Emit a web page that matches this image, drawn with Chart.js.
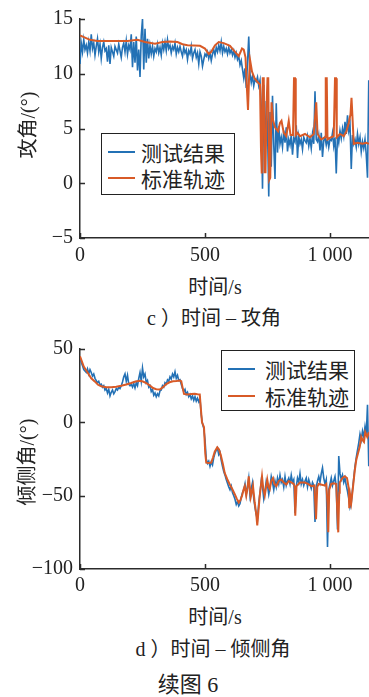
<!DOCTYPE html>
<html>
<head>
<meta charset="utf-8">
<script src="https://cdn.jsdelivr.net/npm/chart.js@4/dist/chart.umd.min.js"></script>
<style>
  html, body { margin: 0; padding: 0; background: #fff; }
  body { width: 369px; height: 697px; position: relative; overflow: hidden;
         font-family: 'Liberation Serif', 'Noto Sans CJK SC', serif; color: #222; }
  canvas { position: absolute; left: 0; }
  .txt { position: absolute; white-space: nowrap; font-size: 20px; line-height: 1;
         transform: translate(-50%, -50%); }
  .ytitle { transform: translate(-50%, -50%) rotate(-90deg); }
  .legend { position: absolute; border: 1.5px solid #222; background: #fff; box-sizing: border-box; }
  .row { position: absolute; left: 0; height: 24px; display: flex; align-items: center; }
  .swatch { height: 2.5px; }
  .lab { font-family: 'Noto Sans CJK SC', sans-serif; font-size: 21px; line-height: 1; color: #222; }
</style>
</head>
<body>
<canvas id="attack" width="369" height="270" style="top:0"></canvas>
<canvas id="bank" width="369" height="270" style="top:330px"></canvas>

<div class="txt ytitle" style="left:28px;top:125px">攻角/(°)</div>
<div class="txt" style="left:215px;top:287px">时间/s</div>
<div class="txt" style="left:214px;top:318px">c ）时间 – 攻角</div>

<div class="txt ytitle" style="left:27px;top:462px">倾侧角/(°)</div>
<div class="txt" style="left:215px;top:617px">时间/s</div>
<div class="txt" style="left:213px;top:649px">d ）时间 – 倾侧角</div>
<div class="txt" style="left:188px;top:685px;font-size:22px">续图 6</div>

<div class="legend" style="left:101px;top:133px;width:134px;height:62px">
  <div class="row" style="top:6px"><div class="swatch" id="swA1" style="width:27px;margin-left:6px;margin-right:6px"></div><span class="lab">测试结果</span></div>
  <div class="row" style="top:32px"><div class="swatch" id="swA2" style="width:27px;margin-left:6px;margin-right:6px"></div><span class="lab">标准轨迹</span></div>
</div>
<div class="legend" style="left:221px;top:350px;width:134px;height:61px">
  <div class="row" style="top:6px"><div class="swatch" id="swB1" style="width:27px;margin-left:6px;margin-right:10px"></div><span class="lab">测试结果</span></div>
  <div class="row" style="top:33px"><div class="swatch" id="swB2" style="width:27px;margin-left:6px;margin-right:10px"></div><span class="lab">标准轨迹</span></div>
</div>

<script>
// ---- series colours ----
const MEASURED_COLOR = '#2371b5';
const REFERENCE_COLOR = '#d85a27';
const AXIS_COLOR = '#2b2b2b';
const TEXT_COLOR = '#222';

// ---- shared time axis ----
const TIME_MAX = 1156;                 // s
const MEASURED_STEP = 5;               // s, sampling interval of the measured series
const timeTicks = [0, 500, 1000];
const timeTickLabels = ['0', '500', '1 000'];

// ---- (c) angle of attack, deg ----
const attackTicks = [-5, 0, 5, 10, 15];
const attackTickLabels = ['−5', '0', '5', '10', '15'];
const attackMeasured = [
  10.9,12.8,12.0,13.1,12.2,12.6,11.9,12.9,12.1,13.6,12.3,12.8,11.7,12.5,13.2,12.0,12.7,11.4,12.4,12.9,12.1,
  12.3,11.1,12.6,10.9,12.4,12.0,11.6,12.5,12.2,11.9,12.7,12.1,11.5,12.4,12.8,12.0,13.0,11.8,12.6,12.2,
  13.6,10.6,12.9,11.0,13.4,10.3,12.2,9.7,13.5,15.0,10.4,14.1,11.0,13.2,11.4,12.6,
  11.8,12.5,11.6,12.3,12.0,12.7,11.9,12.4,11.7,12.8,12.2,12.9,12.1,13.1,12.3,12.6,11.9,12.5,12.2,12.8,11.8,12.4,12.0,12.5,
  12.0,11.6,12.4,11.9,12.2,11.3,12.1,11.8,12.5,11.4,11.9,12.2,11.5,11.9,10.9,12.0,11.6,10.7,11.3,11.8,
  11.6,12.0,11.4,11.9,11.2,11.8,12.2,11.7,12.4,12.0,12.6,12.1,12.9,11.9,12.5,12.0,12.3,11.8,12.4,11.9,
  12.2,11.7,12.1,11.5,11.9,11.3,11.6,10.8,11.2,10.4,9.6,10.5,8.7,11.0,13.4,10.0,9.2,9.8,8.9,9.5,
  9.3,9.7,8.9,9.4,7.0,-0.5,9.0,2.0,7.5,5.0,-1.2,6.5,1.5,8.0,3.5,0.4,7.3,2.8,5.2,3.6,
  4.2,3.3,4.8,3.7,5.1,2.9,4.0,3.5,4.4,2.6,4.1,3.8,5.3,2.3,4.3,3.6,4.0,3.1,4.2,3.9,
  3.7,4.3,3.4,4.1,3.2,4.5,3.6,8.4,4.0,3.8,4.4,3.0,4.6,2.4,3.9,4.2,3.5,4.1,3.3,4.0,
  3.9,4.6,3.4,4.2,0.9,4.4,3.7,4.8,4.1,5.0,4.3,5.6,4.5,6.2,4.8,5.4,1.3,4.4,3.6,4.0,
  3.3,4.5,3.6,4.2,2.9,3.8,3.2,4.0,2.6,0.5,9.4
];
const attackRefTime = [
  0,20,40,70,120,190,230,260,300,330,360,390,410,430,480,500,515,525,540,555,
  575,600,620,635,648,655,662,668,672,676,680,688,698,712,720,724,727,731,735,738,
  742,746,750,753,757,761,766,772,780,792,800,806,815,825,835,842,852,856,860,863,
  870,880,900,920,935,945,950,965,980,983,987,990,1005,1015,1020,1024,1027,1040,1055,1065,
  1075,1082,1086,1090,1095,1110,1130,1145,1156
];
const attackRefValue = [
  13.5,13.3,13.1,13.0,13.0,13.0,13.1,12.9,12.75,12.9,12.95,12.9,12.7,12.6,12.55,12.3,11.8,12.0,12.6,12.9,
  12.8,12.55,12.0,11.6,12.3,12.2,11.5,8.5,6.7,9.5,11.3,10.2,9.6,9.2,9.0,3.0,0.9,9.6,9.6,1.0,
  1.0,6.9,9.6,9.6,0.3,0.5,7.4,5.8,5.1,4.75,5.5,5.7,4.6,4.3,5.7,4.4,4.4,9.6,9.6,4.4,
  4.6,4.3,4.5,4.2,4.5,7.4,4.5,4.0,4.2,9.6,9.6,4.0,4.2,4.3,9.6,9.6,4.2,4.5,4.3,4.7,
  5.5,6.3,7.8,6.0,3.6,3.7,3.6,3.7,3.6
];

// ---- (d) bank angle, deg ----
const bankTicks = [-100, -50, 0, 50];
const bankTickLabels = ['−100', '−50', '0', '50'];
const bankMeasured = [
  44,41,38.5,36,35,34,36.5,33,36,34,31.5,33,30,28.5,27,28,25.5,26,24,25,
  22,23,20,22.5,18,20.5,22,19.5,21,23,22,24,23,25,27.5,31,33,28,32,26,
  25,26,24,26.5,23.5,27,25,30,34,28,37,31,33,27,28.5,24,25,21,22.5,18.5,
  20,17.5,19.5,18,21.5,22,25,24,27,26,29,28,31,29.5,33,31,34.5,30,32,28.5,
  29,26,23,21,22.5,19,20.5,17.5,19,16,18,15,17.5,14.5,16.5,14,16,5,-1,-4,
  -12,-25,-28,-26.5,-30,-27,-29,-24,-21,-19,-17.5,-22,-20.5,-26,-30,-33.5,-36,-39,-41.5,-44,
  -46,-43.5,-48,-50,-52.5,-56,-54,-57,-55.5,-51,-48,-46,-42,-49,-44,-38,-50,-45,-41,-52,
  -58,-63,-66,-55,-48,-40,-44,-52,-47,-40,-43,-49,-44,-37,-41,-46,-40,-44,-38,-42,
  -36,-41,-39,-44,-37,-43,-40,-38,-42,-36,-41,-39,-62,-44,-38,-41,-35,-42,-39,-43,
  -40,-38,-44,-39,-42,-45,-41,-43,-68,-44,-40,-37,-41,-35,-31,-38,-42,-39,-85,-46,
  -42,-38,-43,-40,-37,-44,-73,-23,-35,-39,-36,-41,-38,-43,-47,-52,-58,-55,-46,-38,
  -30,-24,-19,-14,-8,-12,-6,-10,-3,-9,12,-30
];
const bankRefTime = [
  0,15,32,45,59,72,85,105,125,145,165,185,205,222,239,252,265,280,292,305,
  319,332,345,358,372,386,399,405,410,416,432,445,459,470,479,483,488,496,501,505,
  515,525,532,539,549,556,563,571,579,589,599,609,619,627,635,642,648,654,659,665,
  670,675,683,688,692,699,705,709,714,719,728,733,739,749,754,759,765,772,778,785,
  795,805,815,825,835,845,855,859,861,866,880,899,912,925,938,944,949,955,967,979,
  985,990,993,997,1005,1015,1025,1029,1033,1037,1039,1049,1059,1068,1075,1077,1081,1085,1092,1099,
  1105,1112,1119,1125,1130,1136,1141,1149,1156
];
const bankRefValue = [
  45,38,33.5,30,27.9,25.6,24.6,24,23.9,24.3,25,25.8,26.8,27.8,28.4,27.8,26.8,25,23.4,22.6,
  22.4,24,26.1,27.3,28,28.2,28.5,28,24,19.4,19,19.3,19.5,19.2,19,10,0,-3.3,-21,-27.5,
  -27.8,-27.5,-24,-20,-17,-18.5,-22.3,-28,-34.6,-38.8,-42.4,-45.5,-49,-52,-54.7,-53,-50.2,-46,-43.5,-50,
  -45,-36.8,-51,-47,-43.5,-55,-62.5,-70.3,-60,-50,-36.8,-45,-50,-39,-44,-45.6,-40,-38,-42,-43.5,
  -40,-39,-41,-42.4,-40,-41,-42,-44,-63.6,-43.5,-41,-41,-42,-43.5,-43,-66,-44,-42,-42.5,-43,
  -42,-55,-75,-46,-42,-41.5,-42,-60,-75,-48,-41,-38,-36.8,-38,-45,-58.5,-50,-54.7,-44,-33,
  -25.7,-21,-16.7,-10,-12,-13.4,-6.7,-10,-6.7
];

const FONT_FAMILY = "'Liberation Serif', serif";

// short tick marks pointing into the plot area
const innerTicks = {
  id: 'innerTicks',
  beforeDatasetsDraw(chart) {
    const { ctx, chartArea, scales: { x, y } } = chart;
    ctx.save();
    ctx.strokeStyle = AXIS_COLOR;
    ctx.lineWidth = 1.5;
    ctx.beginPath();
    x.ticks.forEach((t, i) => {
      const px = Math.round(x.getPixelForTick(i)) + 0.5;
      ctx.moveTo(px, chartArea.bottom);
      ctx.lineTo(px, chartArea.bottom - 5);
    });
    y.ticks.forEach((t, i) => {
      const py = Math.round(y.getPixelForTick(i)) + 0.5;
      ctx.moveTo(chartArea.left, py);
      ctx.lineTo(chartArea.left + 5, py);
    });
    ctx.stroke();
    ctx.restore();
  }
};

function toPoints(times, values) {
  return values.map((v, i) => ({ x: times[i], y: v }));
}
function sampled(values, step) {
  return values.map((v, i) => ({ x: i * step, y: v }));
}

function buildChart(id, cfg) {
  return new Chart(document.getElementById(id), {
    type: 'line',
    data: {
      datasets: [
        { label: '测试结果', data: sampled(cfg.measured, MEASURED_STEP),
          borderColor: MEASURED_COLOR, borderWidth: 1.6, pointRadius: 0, tension: 0, order: 2 },
        { label: '标准轨迹', data: toPoints(cfg.refTime, cfg.refValue),
          borderColor: REFERENCE_COLOR, borderWidth: 2, pointRadius: 0, tension: 0, order: 1 }
      ]
    },
    options: {
      responsive: false,
      animation: false,
      events: [],
      layout: { padding: { top: cfg.padTop, left: 0, right: 0, bottom: 0 } },
      plugins: { legend: { display: false }, tooltip: { enabled: false } },
      scales: {
        x: {
          type: 'linear', min: 0, max: TIME_MAX,
          afterBuildTicks: s => { s.ticks = timeTicks.map(v => ({ value: v })); },
          afterFit: s => { s.height = cfg.xAxisHeight; },
          grid: { display: false, drawTicks: false },
          border: { display: true, color: AXIS_COLOR, width: 1.5 },
          ticks: {
            padding: cfg.xTickPad, maxRotation: 0, autoSkip: false, color: TEXT_COLOR,
            font: { family: FONT_FAMILY, size: 20 },
            callback: v => timeTickLabels[timeTicks.indexOf(v)]
          }
        },
        y: {
          type: 'linear', min: cfg.yTicks[0], max: cfg.yTicks[cfg.yTicks.length - 1],
          afterBuildTicks: s => { s.ticks = cfg.yTicks.map(v => ({ value: v })); },
          afterFit: s => { s.width = 80; },
          grid: { display: false, drawTicks: false },
          border: { display: true, color: AXIS_COLOR, width: 1.5 },
          ticks: {
            padding: 7, autoSkip: false, color: TEXT_COLOR,
            font: { family: FONT_FAMILY, size: 20 },
            callback: v => cfg.yTickLabels[cfg.yTicks.indexOf(v)]
          }
        }
      }
    },
    plugins: [innerTicks]
  });
}

buildChart('attack', {
  measured: attackMeasured, refTime: attackRefTime, refValue: attackRefValue,
  yTicks: attackTicks, yTickLabels: attackTickLabels,
  padTop: 14, xAxisHeight: 32, xTickPad: 6
});
buildChart('bank', {
  measured: bankMeasured, refTime: bankRefTime, refValue: bankRefValue,
  yTicks: bankTicks, yTickLabels: bankTickLabels,
  padTop: 15, xAxisHeight: 31, xTickPad: 5
});

['swA1', 'swB1'].forEach(id => document.getElementById(id).style.background = MEASURED_COLOR);
['swA2', 'swB2'].forEach(id => document.getElementById(id).style.background = REFERENCE_COLOR);
</script>
</body>
</html>
